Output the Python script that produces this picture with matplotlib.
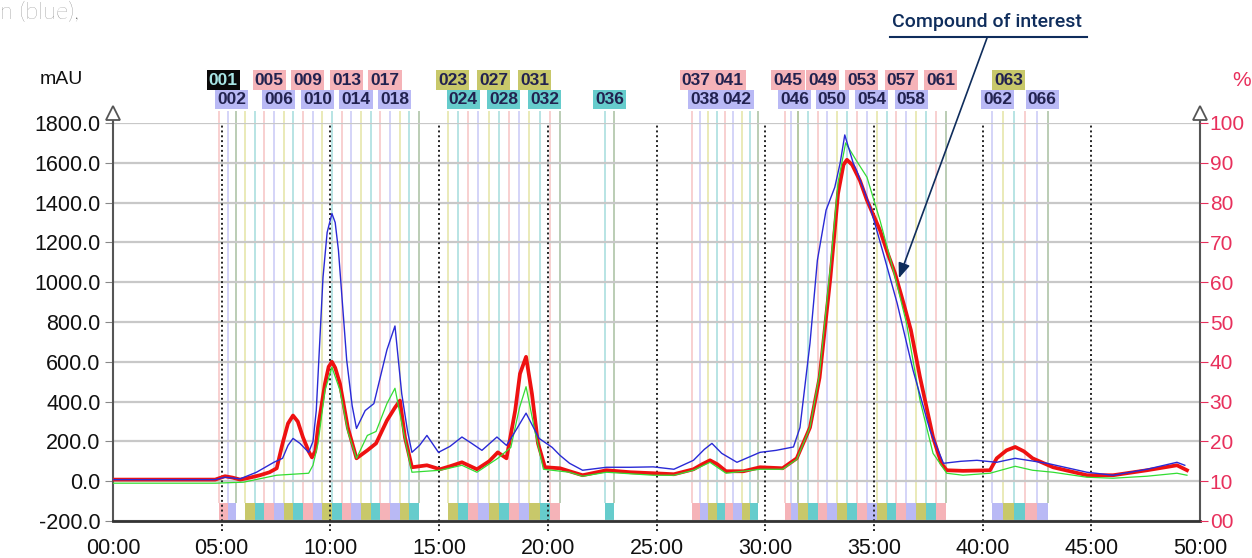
import numpy as np
import matplotlib.pyplot as plt
from matplotlib.transforms import blended_transform_factory

plt.rcParams['font.family'] = ['Liberation Sans', 'DejaVu Sans']

# chromatogram traces: time (min) / absorbance (mAU)
red_t = [0, 4.7, 5.15, 5.5, 5.85, 6.3, 6.76, 7.2, 7.53, 7.8, 8.05, 8.28, 8.5, 8.74, 9.0, 9.15, 9.3,
         9.43, 9.75, 9.92, 10.07, 10.22, 10.44, 10.8, 11.2, 11.7, 12.1, 12.6, 12.97, 13.2, 13.43,
         13.75, 14.1, 14.44, 15.04, 15.5, 16.05, 16.74, 17.3, 17.7, 18.1, 18.5, 18.72, 19.0, 19.27,
         19.55, 19.87, 20.56, 21.0, 21.6, 22.7, 23.8, 24.85, 25.8, 26.7, 27.1, 27.46, 27.8, 28.2,
         29.0, 29.76, 30.8, 31.45, 32.06, 32.5, 33.0, 33.35, 33.6, 33.76, 34.0, 34.36, 34.68, 35.28,
         35.65, 35.97, 36.4, 36.7, 37.12, 37.72, 38.1, 38.35, 39.1, 40.34, 40.65, 41.1, 41.5, 41.9,
         42.3, 43.24, 44.8, 46.0, 47.56, 48.94, 49.4]
red_v = [8, 8, 25, 18, 8, 18, 30, 45, 65, 190, 290, 330, 300, 220, 150, 120, 150,
         270, 490, 575, 600, 570, 490, 270, 115, 155, 190, 305, 370, 405, 220,
         70, 75, 80, 60, 75, 95, 60, 100, 145, 115, 355, 540, 625, 440,
         190, 70, 65, 50, 30, 55, 45, 40, 35, 60, 85, 105, 85, 50,
         50, 70, 65, 115, 270, 520, 1025, 1445, 1590, 1615, 1590, 1510, 1412, 1261,
         1140, 1045, 880, 760, 523, 221, 90, 55, 52, 55, 115, 155, 172, 150,
         115, 70, 30, 30, 55, 80, 55]

blue_t = [0, 4.7, 5.15, 5.85, 6.6, 7.4, 7.8, 8.05, 8.28, 8.6, 9.0, 9.2, 9.35, 9.66, 9.85, 10.07,
          10.22, 10.37, 10.75, 11.0, 11.2, 11.6, 12.0, 12.6, 12.97, 13.28, 13.55, 13.75, 14.1,
          14.44, 14.97, 15.5, 16.05, 16.5, 16.97, 17.66, 18.1, 18.5, 19.0, 19.6, 20.2, 20.56, 21.0,
          21.6, 22.7, 23.8, 24.85, 25.8, 26.7, 27.2, 27.55, 28.0, 28.7, 29.76, 30.5, 31.3, 31.6,
          32.06, 32.4, 32.8, 33.2, 33.45, 33.66, 34.05, 34.2, 34.83, 35.43, 36.07, 36.8, 37.58,
          38.2, 39.0, 39.74, 40.65, 41.5, 42.96, 44.8, 46.0, 47.56, 48.94, 49.3]
blue_v = [8, 8, 20, 12, 45, 95, 115, 180, 215, 190, 145, 200, 355, 1025, 1250, 1345,
          1300, 1160, 608, 380, 265, 355, 390, 660, 780, 440, 250, 145, 180,
          230, 145, 175, 222, 190, 155, 222, 180, 250, 342, 215, 170, 130, 90,
          55, 70, 70, 72, 60, 105, 160, 190, 140, 95, 145, 155, 172, 270,
          693, 1110, 1362, 1477, 1600, 1740, 1598, 1563, 1377, 1146, 894, 558, 256,
          90, 100, 105, 95, 115, 90, 45, 30, 60, 95, 80]

green_t = [0, 4.7, 6.0, 7.53, 9.0, 9.2, 9.43, 9.75, 10.07, 10.44, 10.8, 11.2, 11.7, 12.1, 12.6,
           12.97, 13.35, 13.75, 15.04, 16.05, 16.74, 17.7, 18.3, 18.7, 19.0, 19.4, 19.8, 21.0,
           21.6, 22.7, 24.85, 25.8, 26.7, 27.46, 28.2, 29.76, 30.8, 31.45, 32.06, 32.5, 33.0,
           33.35, 33.7, 34.2, 34.68, 35.28, 35.97, 36.5, 37.12, 37.72, 38.35, 39.1, 40.34, 41.5,
           42.3, 43.24, 44.8, 46.0, 47.56, 48.94, 49.4]
green_v = [-10, -10, -5, 30, 40, 80, 190, 457, 573, 457, 250, 115, 230, 250, 390,
           467, 255, 45, 55, 80, 45, 115, 170, 370, 475, 255, 60, 45,
           25, 45, 30, 30, 55, 95, 40, 60, 60, 110, 270, 540, 1080,
           1500, 1700, 1610, 1528, 1311, 1028, 794, 407, 140, 40, 30, 40, 75,
           55, 45, 20, 15, 25, 40, 30]

# fraction groups: first / last tube number, start / end time (min)
frac_first = [1, 3, 23, 36, 37, 45, 47, 62]
frac_last = [2, 20, 33, 36, 44, 46, 61, 66]
frac_start = [4.88, 6.07, 15.4, 22.63, 26.63, 30.9, 31.5, 40.43]
frac_end = [5.66, 14.07, 20.56, 23.04, 29.67, 31.5, 38.3, 43.0]

labels_top = [1, 5, 9, 13, 17, 23, 27, 31, 37, 41, 45, 49, 53, 57, 61, 63]
labels_bottom = [2, 6, 10, 14, 18, 24, 28, 32, 36, 38, 42, 46, 50, 54, 58, 62, 66]

bar_colors = ['#f5b3b8', '#b9b9f5', '#c8c86a', '#66cccc']
line_colors = ['#f6c4c4', '#c9c9f6', '#e4e4a4', '#a4dcdc']

# tube -> (start, end)
fractions = {}
for a, b, s, e in zip(frac_first, frac_last, frac_start, frac_end):
    n = b - a + 1
    w = (e - s) / n
    for i in range(n):
        fractions[a + i] = (s + i * w, s + (i + 1) * w)

fig = plt.figure(figsize=(12.52, 5.58), dpi=100)
ax = fig.add_axes([113 / 1252, 1 - 521 / 558, (1200 - 113) / 1252, (521 - 123) / 558])
ax.set_xlim(0, 50)
ax.set_ylim(-200, 1800)

# grid
ax.set_yticks(np.arange(-200, 1801, 200))
ax.grid(axis='y', color='#c8c8c8', lw=1.6, zorder=0)
ax.vlines(np.arange(5, 50, 5), -250, 1800, colors='#222222', linestyles=(0, (1, 1.5)),
          lw=1.4, clip_on=False, zorder=2)

# fraction markers
for num, (s, e) in fractions.items():
    c = (num - 1) % 4
    ax.vlines(s, -110, 1860, colors=line_colors[c], lw=1.1, clip_on=False, zorder=1)
    ax.bar(s, 90, width=e - s, bottom=-200, align='edge', color=bar_colors[c], lw=0, zorder=1.5)
for b in frac_last:
    ax.vlines(fractions[b][1], -110, 1860, colors='#a8c0a0', lw=1.1, clip_on=False, zorder=1)

trans = blended_transform_factory(ax.transData, ax.transAxes)
for row, y in ((labels_top, 1.108), (labels_bottom, 1.06)):
    for num in row:
        s, e = fractions[num]
        c = (num - 1) % 4
        fc, tc = bar_colors[c], '#22224f'
        if num == 1:
            fc, tc = '#0a0a0a', '#a8e6e6'
        ax.text((s + e) / 2, y, f'{num:03d}', transform=trans, ha='center', va='center',
                fontsize=12.5, fontweight='bold', color=tc, clip_on=False, zorder=5,
                bbox=dict(boxstyle='square,pad=0.12', fc=fc, ec='none'))

# traces
ax.plot(red_t, red_v, color='#ee1111', lw=2.7, zorder=3)
ax.plot(green_t, green_v, color='#33dd33', lw=0.9, zorder=3.2)
ax.plot(blue_t, blue_v, color='#2a2ad6', lw=1.0, zorder=3.4)

# axes styling
ax.spines['top'].set_visible(False)
ax.spines['left'].set_color('#555555')
ax.spines['left'].set_lw(1.5)
ax.spines['right'].set_color('#555555')
ax.spines['right'].set_lw(1.5)
ax.spines['bottom'].set_color('#333333')
ax.spines['bottom'].set_lw(2)
for xv in (0, 50):
    ax.plot([xv, xv], [1800, 1845], color='#555555', lw=1.5, clip_on=False, zorder=4)
    ax.plot(xv, 1850, marker='^', ms=10, mfc='white', mec='#555555', mew=1.3,
            clip_on=False, zorder=6)

ax.set_yticklabels([f'{v:.1f}' for v in np.arange(-200, 1801, 200)])
ax.tick_params(axis='y', length=6, color='#888888', labelsize=15.5, pad=3, labelcolor='#111111')
ax.set_xticks(np.arange(0, 51, 5))
ax.set_xticklabels([f'{m:02d}:00' for m in range(0, 51, 5)])
ax.tick_params(axis='x', length=0, labelsize=15.5, pad=12, labelcolor='#111111')

ax2 = ax.twinx()
ax2.set_ylim(0, 100)
ax2.set_yticks(np.arange(0, 101, 10))
ax2.set_yticklabels([f'{v:02d}' for v in range(0, 101, 10)])
ax2.tick_params(axis='y', length=6, color='#e8305c', labelcolor='#e8305c', labelsize=15, pad=1)
for side in ax2.spines:
    ax2.spines[side].set_visible(False)

fig.text(40 / 1252, 1 - 80 / 558, 'mAU', fontsize=14, color='#111111', va='center')
fig.text(1242 / 1252, 1 - 80 / 558, '%', fontsize=15, color='#e8305c', va='center', ha='center')

fig.text(0.0, 0.997, 'n (blue),', fontsize=17, color='#666666', va='top', ha='left',
         family='Lato', fontweight='light')

# annotation
navy = '#0f2d5c'
fig.text(987 / 1252, 1 - 22 / 558, 'Compound of interest', fontsize=14, color=navy,
         ha='center', va='center', family='Roboto', fontweight='medium')
fig.add_artist(plt.Line2D([890 / 1252, 1087 / 1252], [1 - 37 / 558, 1 - 37 / 558],
                          color=navy, lw=1.5))
ax.annotate('', xy=(36.15, 1020), xycoords='data',
            xytext=(987, 558 - 38), textcoords='figure pixels',
            arrowprops=dict(arrowstyle='-|>,head_length=0.9,head_width=0.35', color=navy,
                            lw=1.2, shrinkA=0, shrinkB=0), zorder=7, annotation_clip=False)

fig.savefig('out.png', dpi=100)
